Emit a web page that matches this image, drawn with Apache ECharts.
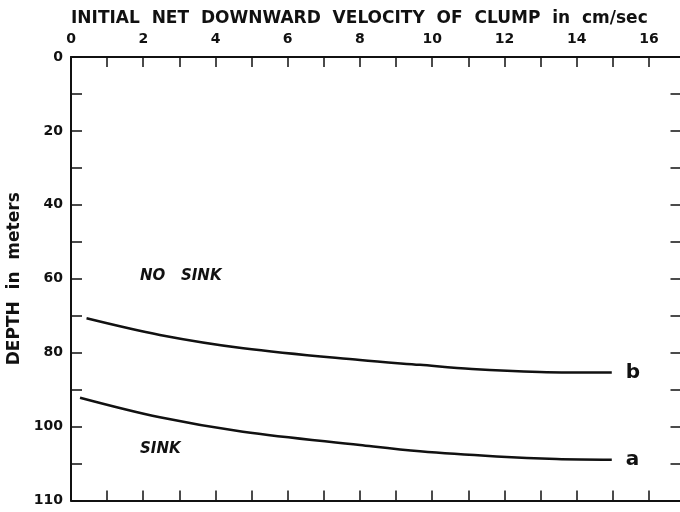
<!DOCTYPE html>
<html>
<head>
<meta charset="utf-8">
<script src="https://cdn.jsdelivr.net/npm/echarts@6/dist/echarts.min.js"></script>
<style>
  html, body { margin: 0; padding: 0; background: #fff; }
  #chart { width: 680px; height: 512px; }
</style>
</head>
<body>
<div id="chart"></div>
<script>
// Initial net downward velocity of clump (cm/sec) vs. depth reached (m)
const noSinkVelocity = [0.43, 2.46, 4.77, 8.0, 9.66, 11.1, 12.98, 14.97];
const noSinkDepth    = [70.7, 75.2, 78.8, 82.0, 83.3, 84.4, 85.2, 85.4];
const sinkVelocity   = [0.25, 2.46, 4.76, 8.0, 9.66, 11.78, 13.44, 14.97];
const sinkDepth      = [92.2, 97.5, 101.4, 105.0, 106.7, 108.1, 108.8, 109.0];

// Depth tick labels as printed on the axis (the last one sits at the 120 position)
const depthLabels = { 0: '0', 20: '20', 40: '40', 60: '60', 80: '80', 100: '100', 120: '110' };
const velocityLabels = [0, 2, 4, 6, 8, 10, 12, 14, 16];

const ink = '#111';
const face = '"DejaVu Sans"';
const labelFont = { color: ink, fontFamily: 'DejaVu Sans', fontWeight: 'bold', fontSize: 14 };

function pairs(xs, ys) { return xs.map((x, i) => [x, ys[i]]); }

const chart = echarts.init(document.getElementById('chart'), null, { renderer: 'canvas' });

const axisStyle = { show: true, onZero: false, lineStyle: { color: ink, width: 2 } };
const tickStyle = (len) => ({ inside: true, length: len, lineStyle: { color: ink, width: 1.5 } });

chart.setOption({
  backgroundColor: '#fff',
  animation: false,
  title: {
    text: 'INITIAL  NET  DOWNWARD  VELOCITY  OF  CLUMP  in  cm/sec',
    left: 66, top: 5,
    textStyle: { color: ink, fontFamily: 'DejaVu Sans', fontWeight: 'bold', fontSize: 17 }
  },
  grid: { left: 71, top: 57, bottom: 11.5, width: 610.5, outerBoundsMode: 'none', containLabel: false },
  xAxis: [
    {
      type: 'value', position: 'top', min: 0, max: 16.9, interval: 1,
      axisLine: axisStyle, axisTick: tickStyle(10), splitLine: { show: false },
      axisLabel: {
        ...labelFont, margin: 11,
        formatter: v => velocityLabels.includes(v) ? String(v) : ''
      }
    },
    {
      type: 'value', position: 'bottom', min: 0, max: 16.9, interval: 1,
      axisLine: axisStyle, axisTick: tickStyle(10), splitLine: { show: false },
      axisLabel: { show: false }
    }
  ],
  yAxis: [
    {
      type: 'value', position: 'left', inverse: true, min: 0, max: 120, interval: 10,
      name: 'DEPTH  in  meters', nameLocation: 'middle', nameRotate: 90, nameGap: 46,
      nameTextStyle: { color: ink, fontFamily: 'DejaVu Sans', fontWeight: 'bold', fontSize: 17 },
      axisLine: axisStyle, axisTick: tickStyle(11), splitLine: { show: false },
      axisLabel: {
        ...labelFont, margin: 8,
        formatter: v => depthLabels[v] !== undefined ? depthLabels[v] : ''
      }
    },
    {
      type: 'value', position: 'right', inverse: true, min: 0, max: 120, interval: 10,
      axisLine: { show: false, onZero: false }, axisTick: tickStyle(11), splitLine: { show: false },
      axisLabel: { show: false }
    }
  ],
  series: [
    {
      name: 'NO SINK', type: 'line', smooth: 0.35, symbol: 'none',
      xAxisIndex: 0, yAxisIndex: 0,
      data: pairs(noSinkVelocity, noSinkDepth),
      lineStyle: { color: ink, width: 2.5 },
      endLabel: {
        show: true, formatter: 'b', distance: 14,
        color: ink, fontFamily: 'DejaVu Sans', fontWeight: 'bold', fontSize: 20
      }
    },
    {
      name: 'SINK', type: 'line', smooth: 0.35, symbol: 'none',
      xAxisIndex: 0, yAxisIndex: 0,
      data: pairs(sinkVelocity, sinkDepth),
      lineStyle: { color: ink, width: 2.5 },
      endLabel: {
        show: true, formatter: 'a', distance: 14,
        color: ink, fontFamily: 'DejaVu Sans', fontWeight: 'bold', fontSize: 20
      }
    }
  ],
  graphic: [
    {
      type: 'text', left: 140, top: 269,
      style: { text: 'NO   SINK', fill: ink, font: 'italic bold 15px ' + face }
    },
    {
      type: 'text', left: 140, top: 442,
      style: { text: 'SINK', fill: ink, font: 'italic bold 15px ' + face }
    }
  ]
});
</script>
</body>
</html>
